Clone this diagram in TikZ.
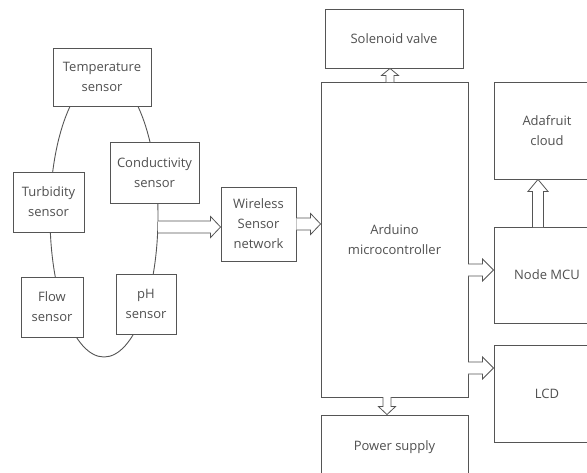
\documentclass[tikz,border=0pt]{standalone}
\usepackage{fontspec}
\setmainfont{Open Sans}
\usetikzlibrary{calc}
\definecolor{ln}{HTML}{555555}
\definecolor{tx}{HTML}{505050}
% hollow block arrow: from, to, shaft half width, head half width, head length
\newcommand\blockarr[5]{%
  \draw[ln,line width=0.8pt,fill=white,line join=miter]
    let \p1=(#1), \p2=(#2), \n1={atan2(\y2-\y1,\x2-\x1)}, \n2={veclen(\x2-\x1,\y2-\y1)} in
    [shift={(\p1)},rotate=\n1]
    (0pt,-#3pt) -- ({\n2-#5pt},-#3pt) -- ({\n2-#5pt},-#4pt) -- (\n2,0pt)
    -- ({\n2-#5pt},#4pt) -- ({\n2-#5pt},#3pt) -- (0pt,#3pt);}
\begin{document}
\begin{tikzpicture}[x=1pt,y=-1pt,
  box/.style={draw=ln,line width=0.9pt,fill=white,inner sep=2pt,align=center,
    text=tx,font=\fontsize{13}{20}\selectfont}]
\clip (0,0) rectangle (587,472);
\fill[white] (0,0) rectangle (587,472);
% ring of sensors
\draw[ln,line width=0.9pt] (104,216) ellipse [x radius=54, y radius=141];
\node[box,minimum width=98pt,minimum height=58pt] (temp) at (102,77) {Temperature\\sensor};
\node[box,minimum width=89pt,minimum height=61pt] (cond) at (154.5,172.5) {Conductivity\\sensor};
\node[box,minimum width=71pt,minimum height=60pt] (turb) at (48.5,202) {Turbidity\\sensor};
\node[box,minimum width=62pt,minimum height=60pt] (flow) at (52,307) {Flow\\sensor};
\node[box,minimum width=60pt,minimum height=60pt] (ph) at (146,304) {pH\\sensor};
\node[box,minimum width=75pt,minimum height=74pt] (wsn) at (258.5,224) {Wireless\\Sensor\\network};
% right part
\node[box,minimum width=138pt,minimum height=59pt] (sol) at (394,38.5) {Solenoid valve};
\node[box,minimum width=147pt,minimum height=315pt] (ard) at (394.5,239.5) {Arduino\\microcontroller};
\node[box,minimum width=147pt,minimum height=65pt] (pow) at (394.5,447.5) {Power supply};
\node[box,minimum width=106pt,minimum height=97pt] (ada) at (547,130.5) {Adafruit\\cloud};
\node[box,minimum width=106pt,minimum height=96pt] (node) at (547,275) {Node MCU};
\node[box,minimum width=106pt,minimum height=97pt] (lcd) at (547,393.5) {LCD};
% arrows
\coordinate (ringR) at (158,227);
\coordinate (ringE) at (ringR -| wsn.west);
\blockarr{ringR}{ringE}{6}{10.5}{10}
\coordinate (w1) at (wsn.east -| ard.west);
\blockarr{wsn.east}{w1}{6}{10.5}{10}
\coordinate (a1) at (468,270);
\coordinate (a1e) at (a1 -| node.west);
\blockarr{a1}{a1e}{6}{11}{11}
\coordinate (a2) at (468,368);
\coordinate (a2e) at (a2 -| lcd.west);
\blockarr{a2}{a2e}{6}{11}{11}
\coordinate (a3) at (538,227);
\coordinate (a3e) at (a3 |- ada.south);
\blockarr{a3}{a3e}{5.5}{10}{12}
\coordinate (a4) at (390,82);
\coordinate (a4e) at (a4 |- sol.south);
\blockarr{a4}{a4e}{4}{8.5}{7}
\coordinate (a5) at (387,397);
\coordinate (a5e) at (a5 |- pow.north);
\blockarr{a5}{a5e}{4}{8.5}{8}
\end{tikzpicture}
\end{document}
